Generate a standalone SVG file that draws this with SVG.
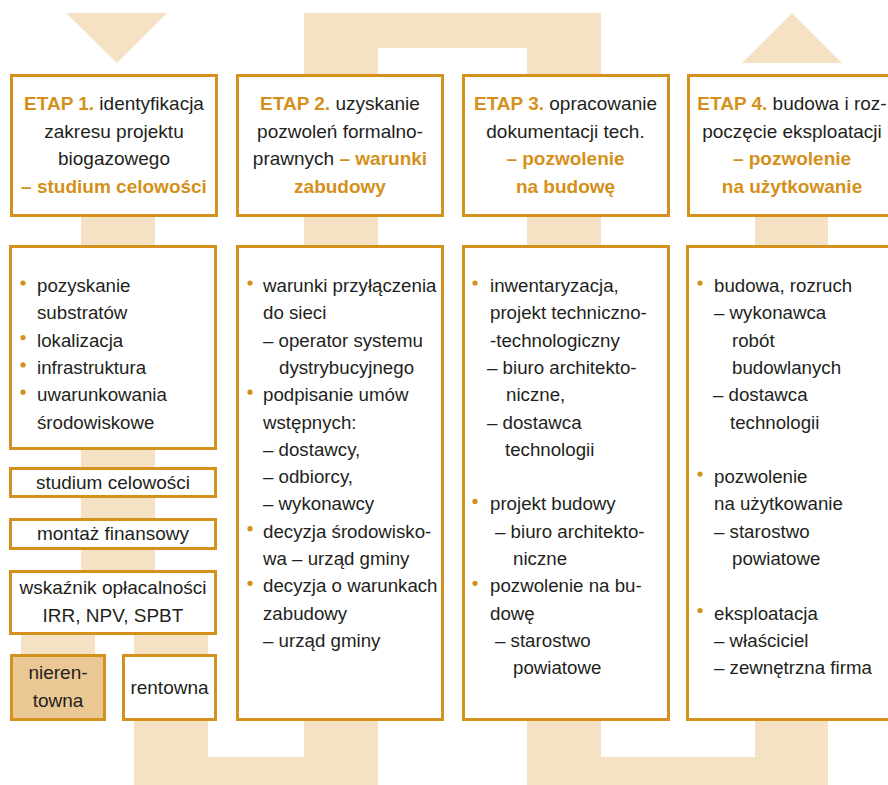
<svg xmlns="http://www.w3.org/2000/svg" width="888" height="785" viewBox="0 0 888 785">
<style>
.band{fill:#F5E1C4}
.box{fill:#FFFFFF;stroke:#D4911E;stroke-width:3}
.tan{fill:#EBC793;stroke:#D4911E;stroke-width:3}
text{font-family:"Liberation Sans",Arial,sans-serif;font-size:19px;fill:#231F20}
.l{font-size:18.7px}
.c{text-anchor:middle}
.o{fill:#D4901A;font-weight:bold}
.dot{fill:#D4901A}
</style>
<rect width="888" height="785" fill="#FFFFFF"/>
<g id="connectors">
<polygon class="band" points="66,13 167,13 117,63"/>
<rect class="band" x="81" y="100" width="74" height="500"/>
<rect class="band" x="21" y="620" width="74" height="40"/>
<rect class="band" x="134" y="620" width="74" height="165"/>
<rect class="band" x="134" y="757" width="244" height="28"/>
<rect class="band" x="304" y="13" width="74" height="772"/>
<rect class="band" x="304" y="13" width="296" height="35"/>
<rect class="band" x="527" y="13" width="74" height="772"/>
<rect class="band" x="527" y="757" width="301" height="28"/>
<rect class="band" x="755" y="100" width="73" height="685"/>
<polygon class="band" points="742,63 842,63 792,13"/>
</g>
<g id="etap1">
<rect class="box" x="11.5" y="75.5" width="205" height="140"/>
<text class="c" x="114" y="110"><tspan class="o">ETAP 1.</tspan> identyfikacja</text>
<text class="c" x="114" y="137.7">zakresu projektu</text>
<text class="c" x="114" y="165.4">biogazowego</text>
<text class="c o" x="114" y="193">– studium celowości</text>
</g>
<g id="etap2">
<rect class="box" x="237.5" y="75.5" width="205" height="140"/>
<text class="c" x="340" y="110"><tspan class="o">ETAP 2.</tspan> uzyskanie</text>
<text class="c" x="340" y="137.7">pozwoleń formalno-</text>
<text class="c" x="340" y="165.4">prawnych <tspan class="o">– warunki</tspan></text>
<text class="c o" x="340" y="193">zabudowy</text>
</g>
<g id="etap3">
<rect class="box" x="463.5" y="75.5" width="205" height="140"/>
<text class="c" x="565.5" y="110"><tspan class="o">ETAP 3.</tspan> opracowanie</text>
<text class="c" x="565.5" y="137.7">dokumentacji tech.</text>
<text class="c o" x="565.5" y="165.4">– pozwolenie</text>
<text class="c o" x="565.5" y="193">na budowę</text>
</g>
<g id="etap4">
<rect class="box" x="688.5" y="75.5" width="210" height="140"/>
<text class="c" x="792" y="110"><tspan class="o">ETAP 4.</tspan> budowa i roz-</text>
<text class="c" x="792" y="137.7">poczęcie eksploatacji</text>
<text class="c o" x="792" y="165.4">– pozwolenie</text>
<text class="c o" x="792" y="193">na użytkowanie</text>
</g>
<g id="content1" class="l">
<rect class="box" x="10.5" y="246.5" width="205" height="202"/>
<circle class="dot" cx="23" cy="283" r="2.6"/>
<circle class="dot" cx="23" cy="337.6" r="2.6"/>
<circle class="dot" cx="23" cy="364.9" r="2.6"/>
<circle class="dot" cx="23" cy="392.2" r="2.6"/>
<text class="l" x="37" y="292">pozyskanie</text>
<text class="l" x="37" y="319.3">substratów</text>
<text class="l" x="37" y="346.6">lokalizacja</text>
<text class="l" x="37" y="373.9">infrastruktura</text>
<text class="l" x="37" y="401.2">uwarunkowania</text>
<text class="l" x="37" y="428.5">środowiskowe</text>
</g>
<g id="studium">
<rect class="box" x="10.5" y="468.5" width="205" height="28"/>
<text class="c" x="113" y="489">studium celowości</text>
</g>
<g id="montaz">
<rect class="box" x="10.5" y="519.5" width="205" height="29"/>
<text class="c" x="113" y="540">montaż finansowy</text>
</g>
<g id="wskaznik">
<rect class="box" x="10.5" y="571.5" width="205" height="62"/>
<text class="c" x="113" y="594">wskaźnik opłacalności</text>
<text class="c" x="113" y="622">IRR, NPV, SPBT</text>
</g>
<g id="nierentowna">
<rect class="tan" x="11.5" y="655.5" width="93" height="64"/>
<text class="c" x="58" y="679">nieren-</text>
<text class="c" x="58" y="707">towna</text>
</g>
<g id="rentowna">
<rect class="box" x="123.5" y="655.5" width="92" height="64"/>
<text class="c" x="169.5" y="694">rentowna</text>
</g>
<g id="content2">
<rect class="box" x="237.5" y="246.5" width="205" height="473"/>
<circle class="dot" cx="250" cy="283" r="2.6"/>
<circle class="dot" cx="250" cy="392.2" r="2.6"/>
<circle class="dot" cx="250" cy="528.7" r="2.6"/>
<circle class="dot" cx="250" cy="583.3" r="2.6"/>
<text class="l" x="263" y="292">warunki przyłączenia</text>
<text class="l" x="263" y="319.3">do sieci</text>
<text class="l" x="263" y="346.6">– operator systemu</text>
<text class="l" x="279" y="373.9">dystrybucyjnego</text>
<text class="l" x="263" y="401.2">podpisanie umów</text>
<text class="l" x="263" y="428.5">wstępnych:</text>
<text class="l" x="263" y="455.8">– dostawcy,</text>
<text class="l" x="263" y="483.1">– odbiorcy,</text>
<text class="l" x="263" y="510.4">– wykonawcy</text>
<text class="l" x="263" y="537.7">decyzja środowisko-</text>
<text class="l" x="263" y="565">wa – urząd gminy</text>
<text class="l" x="263" y="592.3">decyzja o warunkach</text>
<text class="l" x="263" y="619.6">zabudowy</text>
<text class="l" x="263" y="646.9">– urząd gminy</text>
</g>
<g id="content3">
<rect class="box" x="463.5" y="246.5" width="205" height="473"/>
<circle class="dot" cx="475" cy="283" r="2.6"/>
<circle class="dot" cx="475" cy="501.4" r="2.6"/>
<circle class="dot" cx="475" cy="583.3" r="2.6"/>
<text class="l" x="490" y="292">inwentaryzacja,</text>
<text class="l" x="490" y="319.3">projekt techniczno-</text>
<text class="l" x="490" y="346.6">-technologiczny</text>
<text class="l" x="487" y="373.9">– biuro architekto-</text>
<text class="l" x="506" y="401.2">niczne,</text>
<text class="l" x="487" y="428.5">– dostawca</text>
<text class="l" x="505" y="455.8">technologii</text>
<text class="l" x="490" y="510.4">projekt budowy</text>
<text class="l" x="495" y="537.7">– biuro architekto-</text>
<text class="l" x="513" y="565">niczne</text>
<text class="l" x="490" y="592.3">pozwolenie na bu-</text>
<text class="l" x="490" y="619.6">dowę</text>
<text class="l" x="495" y="646.9">– starostwo</text>
<text class="l" x="513" y="674.2">powiatowe</text>
</g>
<g id="content4">
<rect class="box" x="687.5" y="246.5" width="210" height="473"/>
<circle class="dot" cx="700" cy="283" r="2.6"/>
<circle class="dot" cx="700" cy="474.1" r="2.6"/>
<circle class="dot" cx="700" cy="610.6" r="2.6"/>
<text class="l" x="714" y="292">budowa, rozruch</text>
<text class="l" x="714" y="319.3">– wykonawca</text>
<text class="l" x="732" y="346.6">robót</text>
<text class="l" x="732" y="373.9">budowlanych</text>
<text class="l" x="713" y="401.2">– dostawca</text>
<text class="l" x="730" y="428.5">technologii</text>
<text class="l" x="714" y="483.1">pozwolenie</text>
<text class="l" x="714" y="510.4">na użytkowanie</text>
<text class="l" x="714" y="537.7">– starostwo</text>
<text class="l" x="732" y="565">powiatowe</text>
<text class="l" x="714" y="619.6">eksploatacja</text>
<text class="l" x="714" y="646.9">– właściciel</text>
<text class="l" x="714" y="674.2">– zewnętrzna firma</text>
</g>
</svg>
